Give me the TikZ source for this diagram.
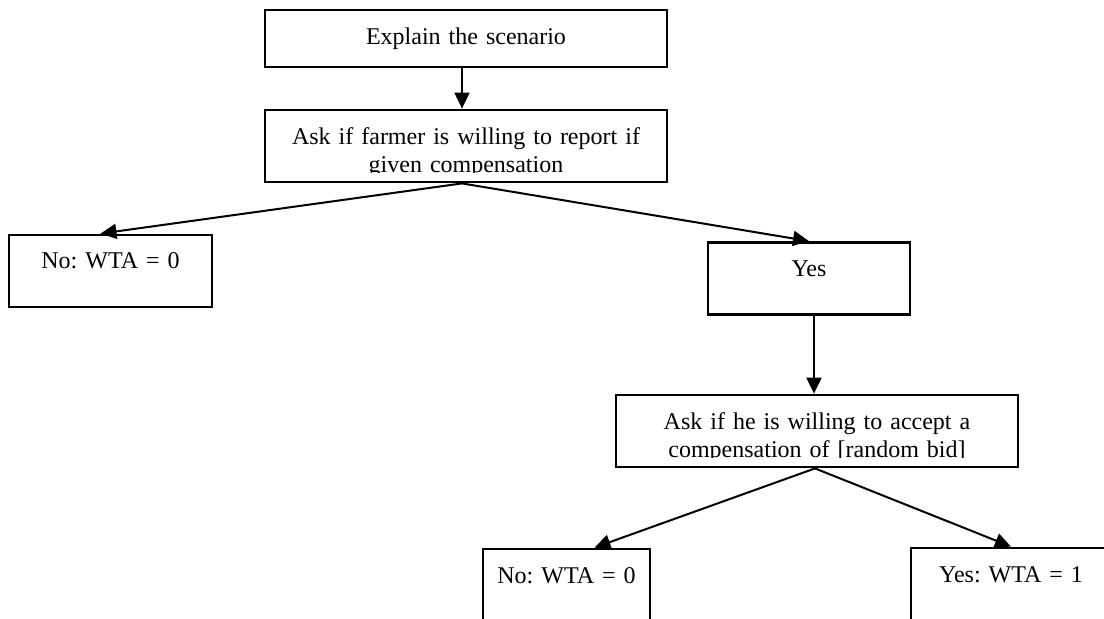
\documentclass[tikz,border=0pt]{standalone}
\usepackage{fontspec}
\setmainfont{Liberation Serif}
\usetikzlibrary{arrows.meta,positioning}

\begin{document}
\frenchspacing
\begin{tikzpicture}[
        x=0.5pt, y=-0.5pt,
        box/.style={rectangle, draw, line width=1.4pt, inner sep=0pt, minimum height=36pt},
        txt/.style={anchor=base, inner sep=0pt, text width=200pt, align=center, font=\fontsize{12pt}{14pt}\selectfont},
        arrow/.style={-{Triangle[length=8pt, width=7.5pt]}, line width=1pt}
    ]
    \clip (0, 0) rectangle (1104, 618);

    % Top boxes
    \node[box, minimum width=201pt, minimum height=28.5pt] (explain) at (466, 38.5) {};
    \node[box, minimum width=201pt] (askreport) at (466, 146) {};

    % First answer
    \node[box, minimum width=101.5pt] (no1) at (110.5, 271) {};
    \node[box, minimum width=101pt] (yes1) at (809, 278.5) {};

    % Bid question and answers
    \node[box, minimum width=201pt] (askbid) at (817, 431) {};
    \node[box, minimum width=83.5pt] (no2) at (566.5, 585) {};
    \node[box, minimum width=100pt] (yes2) at (1011, 584) {};

    % Texts
    \node[txt] (explain-t) at ([yshift=-18pt]explain.north) {Explain the scenario};
    \node[txt] (no1-t) at ([yshift=-17.5pt]no1.north) {No: WTA = 0};
    \node[txt] (yes1-t) at ([yshift=-17.5pt]yes1.north) {Yes};
    \node[txt] (no2-t) at ([yshift=-18pt]no2.north) {No: WTA = 0};
    \node[txt] (yes2-t) at ([yshift=-18pt]yes2.north) {Yes: WTA = 1};
    \begin{scope}
        \clip (askreport.north west) rectangle ([yshift=5.5pt]askreport.south east);
        \node[txt] (askreport-t) at ([yshift=-18pt]askreport.north) {Ask if farmer is willing to report if\\given compensation};
    \end{scope}
    \begin{scope}
        \clip (askbid.north west) rectangle ([yshift=5.5pt]askbid.south east);
        \node[txt] (askbid-t) at ([yshift=-18pt]askbid.north) {Ask if he is willing to accept a\\compensation of [random bid]};
    \end{scope}

    % Connectors
    \draw[arrow] ([xshift=-2pt]explain.south) -- ([xshift=-2pt]askreport.north);
    \draw[arrow] ([xshift=-2pt]askreport.south) -- ([xshift=-5pt]no1.north);
    \draw[arrow] ([xshift=-2pt]askreport.south) -- (yes1.north);
    \draw[arrow] ([xshift=2.5pt]yes1.south) -- ([xshift=-1.5pt]askbid.north);
    \draw[arrow] ([xshift=-1pt]askbid.south) -- ([xshift=14pt]no2.north);
    \draw[arrow] ([xshift=-1pt]askbid.south) -- (yes2.north);

    \end{tikzpicture}
\end{document}
